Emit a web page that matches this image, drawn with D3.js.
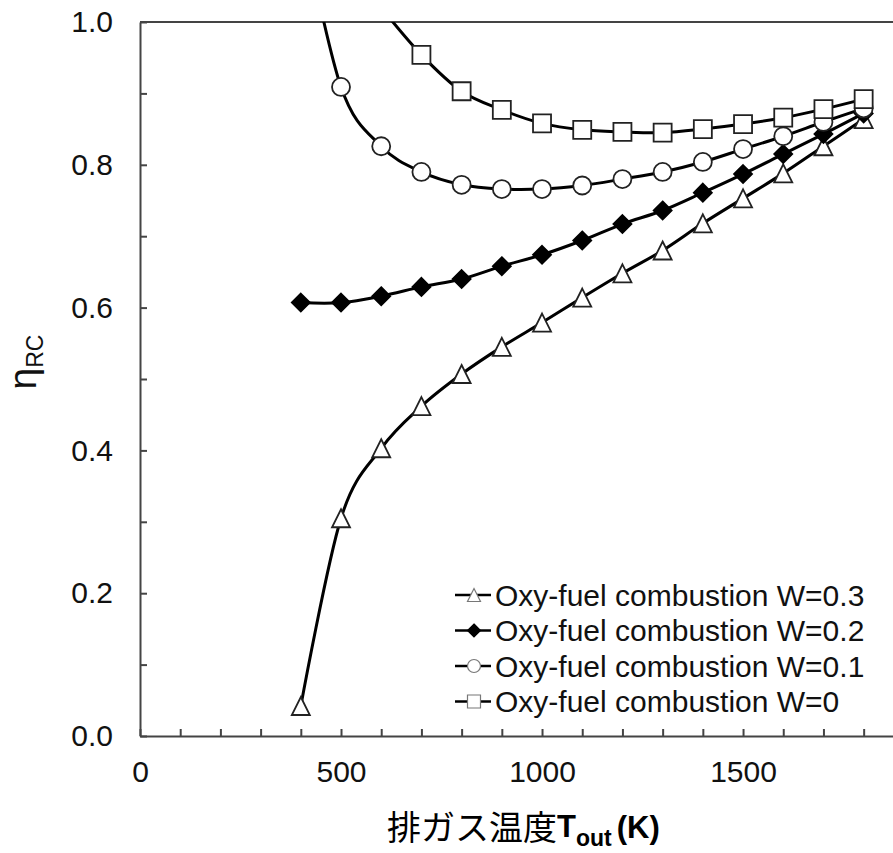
<html>
	<head>
		<script type="text/javascript" src="https://d3js.org/d3.v7.min.js"></script>
	</head>
	<style type="text/css">
		body{ margin:0; background:#fff; }
		.line{ fill:none; stroke:#000; stroke-width:3px; }
		.axis path, .axis line{ stroke:#444; stroke-width:2px; }
		.axis text{ font-family:"Liberation Sans", Arial, sans-serif; font-size:30px; fill:#111; }
	</style>
	<body>
		<script type="text/javascript">
			// data
			var temps = [400,500,600,700,800,900,1000,1100,1200,1300,1400,1500,1600,1700,1800];
			var tempsW0 = [600,700,800,900,1000,1100,1200,1300,1400,1500,1600,1700,1800];
			var etaW03 = [0.042,0.305,0.403,0.462,0.507,0.545,0.579,0.614,0.648,0.680,0.718,0.753,0.788,0.826,0.864];
			var etaW02 = [0.607,0.607,0.616,0.629,0.640,0.658,0.674,0.694,0.717,0.736,0.761,0.787,0.815,0.843,0.872];
			var etaW01 = [1.15,0.909,0.826,0.790,0.772,0.766,0.766,0.771,0.780,0.790,0.804,0.822,0.840,0.860,0.879];
			var etaW0 = [1.02,0.954,0.903,0.877,0.858,0.849,0.846,0.845,0.850,0.857,0.866,0.878,0.892];
			var seriesNames = ["Oxy-fuel combustion W=0.3","Oxy-fuel combustion W=0.2","Oxy-fuel combustion W=0.1","Oxy-fuel combustion W=0"];
			var seriesMarkers = ["triangle","diamond","circle","square"];
			var xTickLabels = [0,500,1000,1500];
			var yTickLabels = [0.0,0.2,0.4,0.6,0.8,1.0];

			var W = 893, H = 853;
			var pLeft = 140, pTop = 22, pBottom = 736, pRight = 893;

			var x = d3.scaleLinear().domain([0,1873]).range([pLeft,pRight]);
			var y = d3.scaleLinear().domain([0,1]).range([pBottom,pTop]);

			var svg = d3.select("body").append("svg")
				.attr("width", W).attr("height", H);

			svg.append("clipPath").attr("id","plot")
				.append("rect").attr("x",pLeft).attr("y",pTop)
				.attr("width",pRight-pLeft).attr("height",pBottom-pTop);

			// top border
			svg.append("line").attr("x1",pLeft).attr("x2",pRight)
				.attr("y1",pTop).attr("y2",pTop)
				.attr("stroke","#444").attr("stroke-width",2);

			// x axis
			svg.append("g").attr("class","axis")
				.attr("transform","translate(0,"+pBottom+")")
				.call(d3.axisBottom(x).tickValues(d3.range(0,1900,100))
					.tickSizeInner(-7).tickSizeOuter(0).tickPadding(25)
					.tickFormat(function(d){ return xTickLabels.indexOf(d)>=0 ? d : ""; }));

			// y axis
			svg.append("g").attr("class","axis")
				.attr("transform","translate("+pLeft+",0)")
				.call(d3.axisLeft(y).tickValues(d3.range(0,11).map(function(i){return i/10;}))
					.tickSizeInner(-7).tickSizeOuter(0).tickPadding(27)
					.tickFormat(function(d){
						var r = Math.round(d*10)/10;
						return yTickLabels.some(function(t){return Math.abs(t-r)<1e-9;}) ? d3.format(".1f")(r) : "";
					}));

			function markerPath(type, s){
				var h = s/2;
				if(type=="triangle") return "M0,"+(-h)+"L"+h+","+h+"L"+(-h)+","+h+"Z";
				if(type=="diamond") return "M0,"+(-h)+"L"+h+",0L0,"+h+"L"+(-h)+",0Z";
				if(type=="square") return "M"+(-h)+","+(-h)+"H"+h+"V"+h+"H"+(-h)+"Z";
				return "M"+h+",0A"+h+","+h+" 0 1,1 "+(-h)+",0A"+h+","+h+" 0 1,1 "+h+",0Z";
			}
			var markerSize = {triangle:18, diamond:18, circle:18, square:18};

			var series = [
				{xs:temps, ys:etaW03},
				{xs:temps, ys:etaW02},
				{xs:temps, ys:etaW01},
				{xs:tempsW0, ys:etaW0}
			];

			var line = d3.line()
				.x(function(d){return x(d[0]);})
				.y(function(d){return y(d[1]);})
				.curve(d3.curveCardinal.tension(0));

			var plot = svg.append("g").attr("clip-path","url(#plot)");

			series.forEach(function(s,i){
				var pts = s.xs.map(function(t,j){ return [t, s.ys[j]]; });
				var m = seriesMarkers[i];
				var g = plot.append("g");
				g.append("path").datum(pts).attr("class","line").attr("d",line);
				g.selectAll("path.mk").data(pts).enter().append("path")
					.attr("class","mk")
					.attr("transform",function(d){return "translate("+x(d[0])+","+y(d[1])+")";})
					.attr("d",markerPath(m, markerSize[m]))
					.attr("fill", m=="diamond" ? "#000" : "#fff")
					.attr("stroke", m=="diamond" ? "#000" : "#222")
					.attr("stroke-width",1.8);
			});

			// legend
			var legend = svg.append("g").attr("transform","translate(455,595)");
			seriesNames.forEach(function(name,i){
				var m = seriesMarkers[i];
				var row = legend.append("g").attr("transform","translate(0,"+(i*35.5)+")");
				row.append("line").attr("x1",0).attr("x2",36).attr("y1",0).attr("y2",0)
					.attr("stroke","#000").attr("stroke-width",2.5);
				row.append("path").attr("transform","translate(19,0)")
					.attr("d",markerPath(m, 13))
					.attr("fill", m=="diamond" ? "#000" : "#fff")
					.attr("stroke", m=="diamond" ? "#000" : "#777")
					.attr("stroke-width",1.2);
				row.append("text").attr("x",40).attr("y",0)
					.attr("dy","0.36em")
					.style("font-family","'Liberation Sans', Arial, sans-serif")
					.style("font-size","30px").style("fill","#111")
					.text(name);
			});

			// y title
			var yt = svg.append("text")
				.attr("transform","translate(36,362) rotate(-90)")
				.attr("text-anchor","middle")
				.style("font-family","'Liberation Sans', Arial, sans-serif")
				.style("fill","#111");
			yt.append("tspan").style("font-size","39px").text("η");
			yt.append("tspan").style("font-size","23px").attr("dy",7).text("RC");

			// x title
			var xt = svg.append("text").attr("x",387).attr("y",840)
				.style("fill","#000");
			xt.append("tspan").style("font-family","'Noto Sans CJK JP', sans-serif")
				.style("font-size","34px").text("排ガス温度");
			xt.append("tspan").style("font-family","'Liberation Sans', Arial, sans-serif")
				.style("font-size","31px").style("font-weight","bold").attr("dy",-3).text("T");
			xt.append("tspan").style("font-family","'Liberation Sans', Arial, sans-serif")
				.style("font-size","23px").style("font-weight","bold").attr("dy",9).text("out");
			xt.append("tspan").style("font-family","'Liberation Sans', Arial, sans-serif")
				.style("font-size","31px").style("font-weight","bold").attr("dx",5).attr("dy",-8).text("(K)");
		</script>
	</body>
</html>
